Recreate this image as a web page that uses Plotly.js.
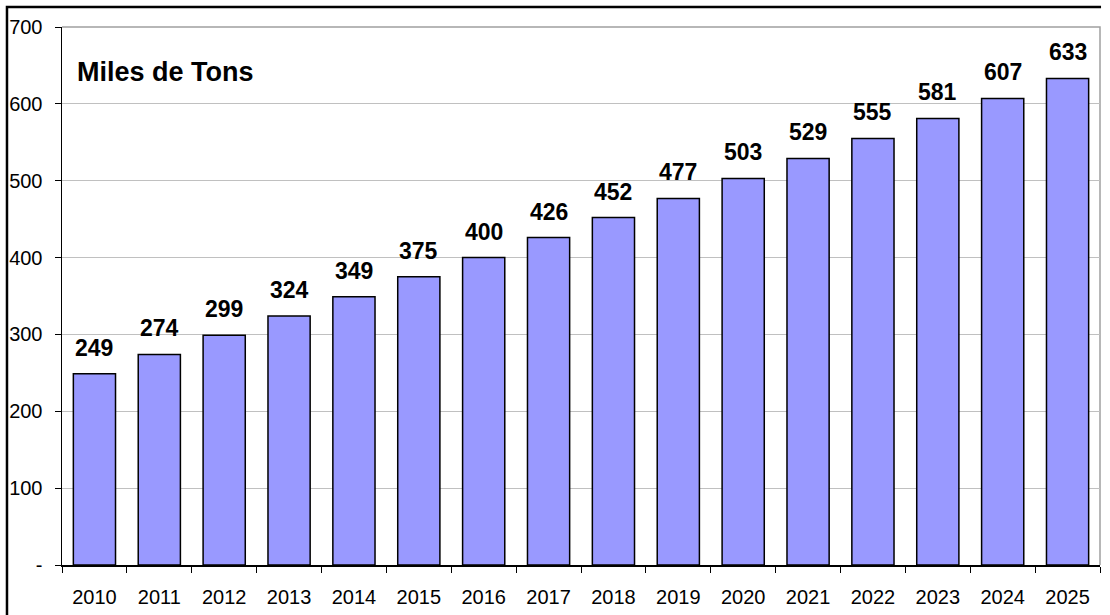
<!DOCTYPE html>
<html><head><meta charset="utf-8">
<script src="https://cdn.plot.ly/plotly-3.0.1.min.js"></script>
<style>html,body{margin:0;padding:0;background:#fff;}#chart{width:1110px;height:615px;}</style>
</head><body><div id="chart"></div>
<script>
const years = ['2010','2011','2012','2013','2014','2015','2016','2017','2018','2019','2020','2021','2022','2023','2024','2025'];
const tons = [249,274,299,324,349,375,400,426,452,477,503,529,555,581,607,633];
const yTickVals = [0,100,200,300,400,500,600,700];
const yTickText = ['-','100','200','300','400','500','600','700'];
const chartLabel = 'Miles de Tons';

const font = 'Liberation Sans, Arial, sans-serif';
const annotations = years.map((y,i)=>({
  x: i, y: tons[i], xref:'x', yref:'y', text: String(tons[i]),
  showarrow:false, yanchor:'bottom', yshift:11,
  font:{family:font, size:23, color:'#000', weight:'bold'}
}));
annotations.push({xref:'paper', yref:'paper', x:0.013, y:0.916, xanchor:'left', yanchor:'middle',
  text:'<b>'+chartLabel+'</b>', showarrow:false, font:{family:font, size:27, color:'#000'}});

const trace = {type:'bar', x:years, y:tons,
  marker:{color:'#9999FF', line:{color:'#000', width:1.5}}, hoverinfo:'skip'};

const layout = {
  width:1110, height:615,
  margin:{l:62, r:10, t:27, b:50},
  paper_bgcolor:'#fff', plot_bgcolor:'#fff',
  bargap:0.35, showlegend:false,
  font:{family:font, size:20, color:'#000'},
  xaxis:{type:'category', range:[-0.5,15.5], tickson:'boundaries', ticks:'outside', ticklen:6, tickcolor:'#000',
    showline:true, linecolor:'#000', linewidth:1.5, showgrid:false, tickangle:0,
    tickfont:{family:font, size:20, color:'#000'}, ticklabelstandoff:13},
  yaxis:{range:[0,700], tickvals:yTickVals, ticktext:yTickText, ticks:'outside', ticklen:6, tickcolor:'#000',
    showline:true, linecolor:'#000', linewidth:1.5, showgrid:true, gridcolor:'#c0c0c0', gridwidth:1,
    zeroline:false, tickfont:{family:font, size:20, color:'#000'}, ticklabelstandoff:8},
  annotations: annotations,
  shapes:[
    {type:'path', xref:'paper', yref:'paper', path:'M 0,1 L 1,1 L 1,0', line:{color:'#a0a0a0', width:1.5}, layer:'below'},
    {type:'path', xref:'paper', yref:'paper', path:'M -0.053,-0.2 L -0.053,1.0372 L 1.001,1.0372', line:{color:'#000', width:2.5}}
  ]
};
Plotly.newPlot('chart', [trace], layout, {staticPlot:true, displayModeBar:false});
</script></body></html>
